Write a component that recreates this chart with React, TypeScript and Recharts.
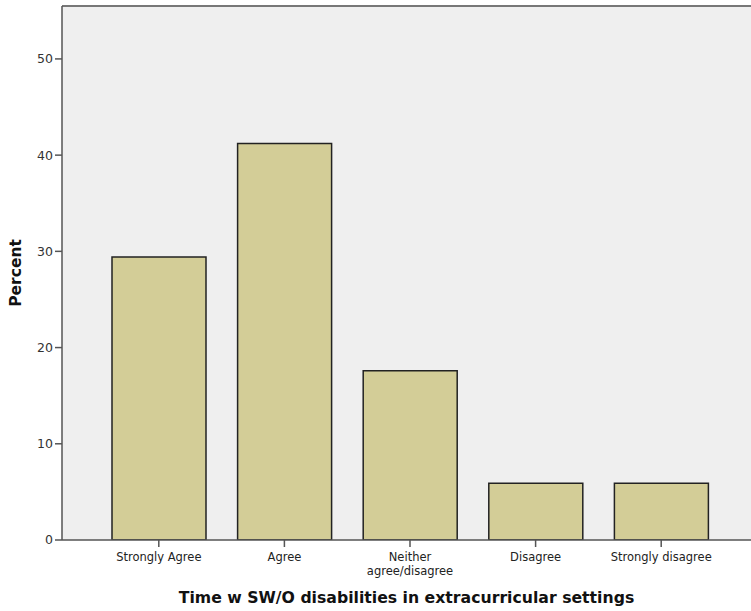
import React from 'react';
import { BarChart, Bar, XAxis, YAxis, CartesianGrid, ReferenceLine, Label } from 'recharts';

const categories = ['Strongly Agree', 'Agree', 'Neither\nagree/disagree', 'Disagree', 'Strongly disagree'];
const percents = [29.4, 41.2, 17.6, 5.9, 5.9];
const yTicks = [0, 10, 20, 30, 40, 50];
const yMax = 55.5;

const data = categories.map((c, i) => ({ name: c, value: percents[i] }));

const FONT = '"DejaVu Sans", Verdana, sans-serif';

const XTick = (props: any) => {
  const { x, y, payload } = props;
  const lines = String(payload.value).split('\n');
  return (
    <g transform={`translate(${x},${y})`}>
      <line x1={0} y1={0} x2={0} y2={7} stroke="#555" strokeWidth={1.5} />
      {lines.map((l, i) => (
        <text key={i} x={0} y={21 + i * 14} textAnchor="middle" fontSize={11.5} fill="#222" fontFamily={FONT}>
          {l}
        </text>
      ))}
    </g>
  );
};

export default function App() {
  return (
    <div style={{ position: 'absolute', left: 0, top: 0, width: 751, height: 611, background: '#fff' }}>
      <BarChart
        width={751}
        height={611}
        data={data}
        margin={{ top: 6, right: 0, bottom: 0, left: 0 }}
        barSize={94}
      >
        <CartesianGrid fill="#EFEFEF" horizontal={false} vertical={false} />
        <ReferenceLine y={yMax} stroke="#777" strokeWidth={2} />
        <XAxis
          dataKey="name"
          interval={0}
          padding={{ left: 34, right: 27 }}
          axisLine={{ stroke: '#555', strokeWidth: 1.5 }}
          tickLine={false}
          tickSize={0}
          tickMargin={0}
          tick={<XTick />}
          height={71}
        >
          <Label
            value="Time w SW/O disabilities in extracurricular settings"
            position="insideBottom"
            offset={8}
            style={{ fontSize: 15.7, fontWeight: 'bold', fill: '#111', fontFamily: FONT }}
          />
        </XAxis>
        <YAxis
          domain={[0, yMax]}
          ticks={yTicks}
          allowDataOverflow
          width={62}
          axisLine={{ stroke: '#555', strokeWidth: 1.5 }}
          tickLine={{ stroke: '#555', strokeWidth: 1.5 }}
          tickSize={7}
          tick={{ fontSize: 12.5, fill: '#333', fontFamily: FONT }}
        >
          <Label
            value="Percent"
            angle={-90}
            position="insideLeft"
            offset={15}
            style={{ fontSize: 15.5, fontWeight: 'bold', fill: '#111', fontFamily: FONT, textAnchor: 'middle' }}
          />
        </YAxis>
        <Bar dataKey="value" fill="#D3CD97" stroke="#222" strokeWidth={1.5} isAnimationActive={false} />
      </BarChart>
    </div>
  );
}
